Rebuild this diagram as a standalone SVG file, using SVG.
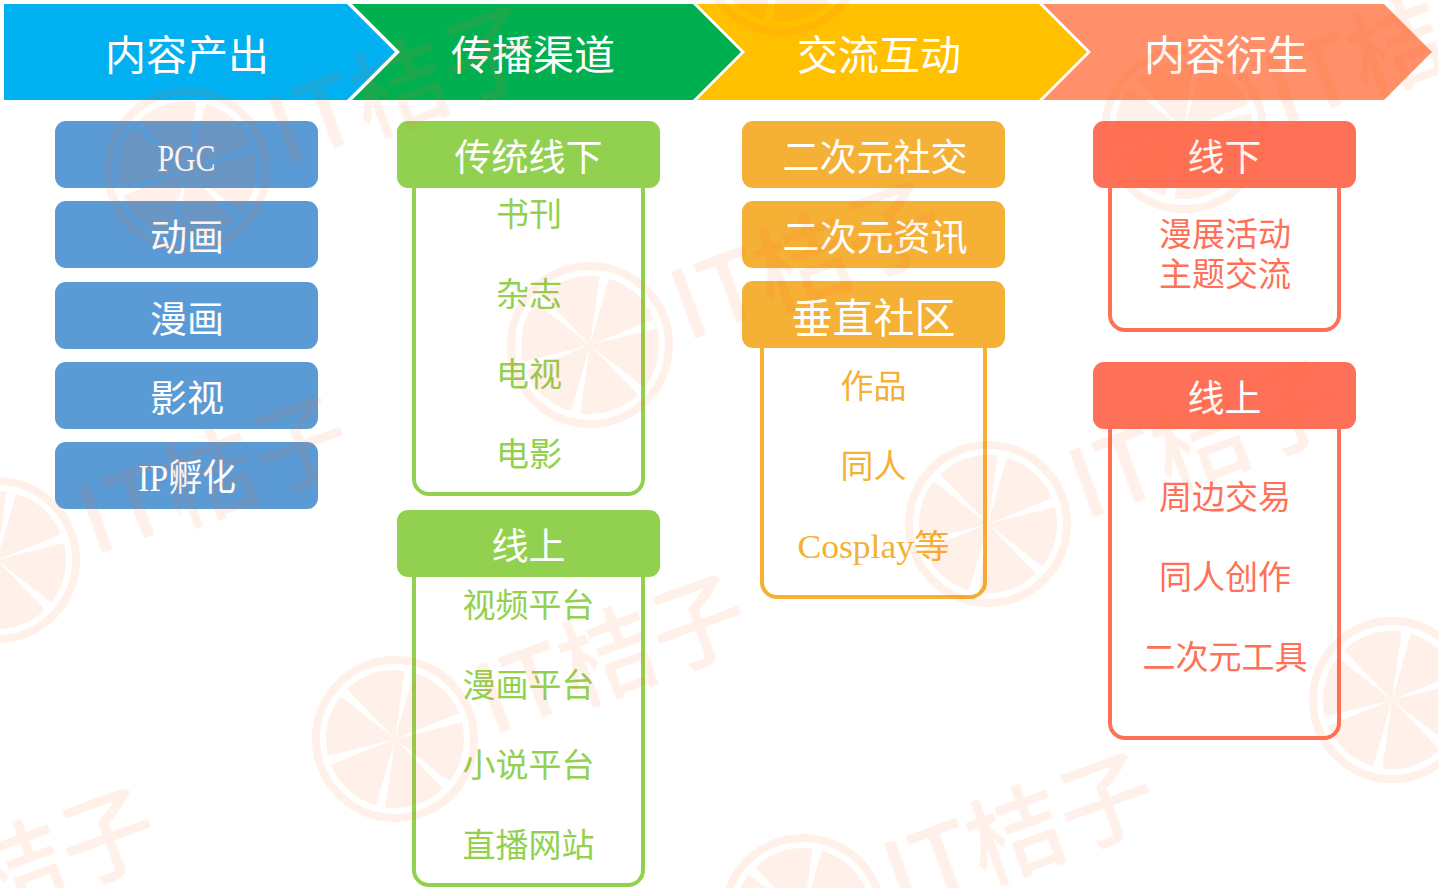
<svg xmlns="http://www.w3.org/2000/svg" width="1438" height="888" viewBox="0 0 1438 888">
<style>
text{font-family:"Liberation Serif","Noto Sans CJK SC",serif;text-anchor:middle}
.h{font-size:41px;fill:#fff}
.n{font-size:37px;fill:#fff}
.s{font-size:33px}
.box{fill:#fff;stroke-width:4}
.bl{fill:#5B9BD5}.gr{fill:#92D14F}.or{fill:#F5B036}.re{fill:#FF7058}
.tg{fill:#92D14F}.to{fill:#F5B036}.tr{fill:#FF7058}
.wmt{font-family:"Noto Sans CJK SC","Liberation Sans",sans-serif;font-size:96px;font-weight:500;fill:#FF6A1E;text-anchor:start}
</style>
<defs>
<g id="wm" opacity="0.1">
<circle r="79" fill="none" stroke="#FF6A1E" stroke-width="8"/>
<circle r="34.5" fill="none" stroke="#FF6A1E" stroke-width="69" pathLength="360" stroke-dasharray="52 8" transform="rotate(-14)"/>
<text class="wmt" x="92" y="30" transform="rotate(-20)">IT桔子</text>
</g>
</defs>
<rect width="1438" height="888" fill="#fff"/>
<g id="connectors"></g>
<g id="stage-1"><polygon points="4,4 347,4 395,52 347,100 4,100" fill="#00B0F0"/><text class="h" x="187" y="70">内容产出</text></g>
<g id="stage-2"><polygon points="352,4 693,4 741,52 693,100 352,100 400,52" fill="#00B050"/><text class="h" x="533" y="70">传播渠道</text></g>
<g id="stage-3"><polygon points="697,4 1039,4 1087,52 1039,100 697,100 745,52" fill="#FFC000"/><text class="h" x="879" y="70">交流互动</text></g>
<g id="stage-4"><polygon points="1043,4 1384,4 1432,52 1384,100 1043,100 1091,52" fill="#FF9069"/><text class="h" x="1226" y="70">内容衍生</text></g>

<g id="pgc"><rect class="bl" x="55" y="121" width="263" height="67" rx="11"/><text class="n" x="186.500" y="171" textLength="58" lengthAdjust="spacingAndGlyphs">PGC</text></g>
<g id="animation"><rect class="bl" x="55" y="201" width="263" height="67" rx="11"/><text class="n" x="187" y="251">动画</text></g>
<g id="comic"><rect class="bl" x="55" y="282" width="263" height="67" rx="11"/><text class="n" x="187" y="333">漫画</text></g>
<g id="film"><rect class="bl" x="55" y="362" width="263" height="67" rx="11"/><text class="n" x="187" y="412">影视</text></g>
<g id="ip"><rect class="bl" x="55" y="442" width="263" height="67" rx="11"/><text class="n" x="187" y="491" textLength="98" lengthAdjust="spacingAndGlyphs">IP孵化</text></g>

<g id="offline-channels">
<rect class="box" x="414" y="160" width="229" height="334" rx="15" stroke="#92D14F"/>
<rect class="gr" x="397" y="121" width="263" height="67" rx="11"/><text class="n" x="528.500" y="171">传统线下</text>
<g class="tg"><text class="s" x="529" y="226">书刊</text><text class="s" x="529" y="306">杂志</text><text class="s" x="529" y="386">电视</text><text class="s" x="529" y="466">电影</text></g>
</g>
<g id="online-channels">
<rect class="box" x="414" y="550" width="229" height="335" rx="15" stroke="#92D14F"/>
<rect class="gr" x="397" y="510" width="263" height="67" rx="11"/><text class="n" x="528.500" y="560">线上</text>
<g class="tg"><text class="s" x="528.500" y="617">视频平台</text><text class="s" x="528.500" y="697">漫画平台</text><text class="s" x="528.500" y="777">小说平台</text><text class="s" x="528.500" y="857">直播网站</text></g>
</g>

<g id="acg-social"><rect class="or" x="742" y="121" width="263" height="67" rx="11"/><text class="n" x="875" y="171">二次元社交</text></g>
<g id="acg-news"><rect class="or" x="742" y="201" width="263" height="67" rx="11"/><text class="n" x="875" y="251">二次元资讯</text></g>
<g id="vertical-community">
<rect class="box" x="762" y="320" width="223" height="277" rx="15" stroke="#F5B036"/>
<rect class="or" x="742" y="281" width="263" height="67" rx="11"/><text class="h" x="873.500" y="333">垂直社区</text>
<g class="to"><text class="s" x="873.500" y="398">作品</text><text class="s" x="873.500" y="478">同人</text><text class="s" x="873.500" y="558" textLength="152" lengthAdjust="spacingAndGlyphs">Cosplay等</text></g>
</g>

<g id="offline-derivatives">
<rect class="box" x="1110" y="160" width="229" height="170" rx="15" stroke="#FF7058"/>
<rect class="re" x="1093" y="121" width="263" height="67" rx="11"/><text class="n" x="1224.500" y="171">线下</text>
<g class="tr"><text class="s" x="1225" y="246">漫展活动</text><text class="s" x="1225" y="286">主题交流</text></g>
</g>
<g id="online-derivatives">
<rect class="box" x="1110" y="400" width="229" height="338" rx="15" stroke="#FF7058"/>
<rect class="re" x="1093" y="362" width="263" height="67" rx="11"/><text class="n" x="1224.500" y="412">线上</text>
<g class="tr"><text class="s" x="1225" y="509">周边交易</text><text class="s" x="1225" y="589">同人创作</text><text class="s" x="1225" y="669">二次元工具</text></g>
</g>

<g id="watermark">
<use href="#wm" x="187" y="170"/>
<use href="#wm" x="590" y="345"/>
<use href="#wm" x="-3" y="560"/>
<use href="#wm" x="395" y="739"/>
<use href="#wm" x="988" y="524"/>
<use href="#wm" x="1392" y="700"/>
<use href="#wm" x="803" y="917"/>
<use href="#wm" x="1184" y="130"/>
<use href="#wm" x="782" y="-47"/>
<use href="#wm" x="-195" y="952"/>
</g>
</svg>
